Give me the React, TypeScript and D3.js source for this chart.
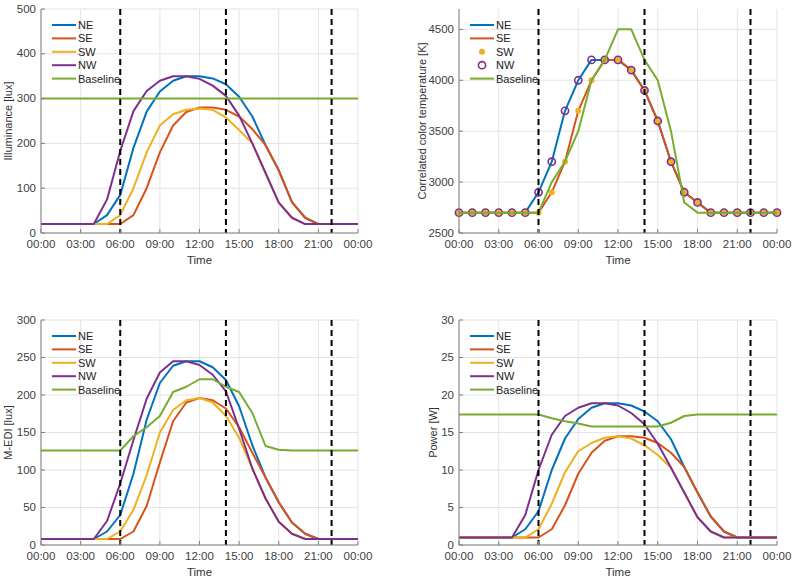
import React from "react"
import { scaleLinear, line } from "d3"

// hours 0..24
const hours = Array.from({ length: 25 }, (_, i) => i)
const xTicks = [0, 3, 6, 9, 12, 15, 18, 21, 24]
const xTickLabels = ["00:00", "03:00", "06:00", "09:00", "12:00", "15:00", "18:00", "21:00", "00:00"]
const dashedHours = [6, 14, 22]

const seriesNames = ["NE", "SE", "SW", "NW", "Baseline"]
const colors = ["#0072BD", "#D95319", "#EDB120", "#7E2F8E", "#77AC30"]

// illuminance [lux]
const illumNE = [20, 20, 20, 20, 20, 40, 85, 190, 271, 316, 340, 350, 350, 345, 332, 304, 260, 196, 140, 69, 34, 20, 20, 20, 20]
const illumSE = [20, 20, 20, 20, 20, 20, 20, 40, 100, 180, 240, 270, 280, 280, 275, 260, 232, 196, 140, 69, 34, 20, 20, 20, 20]
const illumSW = [20, 20, 20, 20, 20, 20, 40, 100, 180, 240, 265, 275, 278, 275, 258, 230, 200, 134, 68, 34, 20, 20, 20, 20, 20]
const illumNW = [20, 20, 20, 20, 20, 75, 183, 272, 317, 340, 350, 350, 344, 329, 306, 262, 200, 134, 68, 34, 20, 20, 20, 20, 20]
const illumBase = [300, 300, 300, 300, 300, 300, 300, 300, 300, 300, 300, 300, 300, 300, 300, 300, 300, 300, 300, 300, 300, 300, 300, 300, 300]

// correlated color temperature [K]
const cctNE = [2700, 2700, 2700, 2700, 2700, 2700, 2900, 3200, 3700, 4000, 4200, 4200, 4200, 4100, 3900, 3600, 3200, 2900, 2800, 2700, 2700, 2700, 2700, 2700, 2700]
const cctSE = [2700, 2700, 2700, 2700, 2700, 2700, 2700, 2900, 3200, 3700, 4000, 4200, 4200, 4100, 3900, 3600, 3200, 2900, 2800, 2700, 2700, 2700, 2700, 2700, 2700]
const cctSW = [2700, 2700, 2700, 2700, 2700, 2700, 2700, 2900, 3200, 3700, 4000, 4200, 4200, 4100, 3900, 3600, 3200, 2900, 2800, 2700, 2700, 2700, 2700, 2700, 2700]
const cctNW = [2700, 2700, 2700, 2700, 2700, 2700, 2900, 3200, 3700, 4000, 4200, 4200, 4200, 4100, 3900, 3600, 3200, 2900, 2800, 2700, 2700, 2700, 2700, 2700, 2700]
const cctBase = [2700, 2700, 2700, 2700, 2700, 2700, 2700, 3000, 3200, 3500, 4000, 4200, 4500, 4500, 4200, 4000, 3500, 2800, 2700, 2700, 2700, 2700, 2700, 2700, 2700]

// melanopic EDI [lux]
const medNE = [8, 8, 8, 8, 8, 18, 40, 95, 167, 216, 239, 245, 245, 237, 220, 185, 133, 90, 57, 30, 15, 8, 8, 8, 8]
const medSE = [8, 8, 8, 8, 8, 8, 8, 18, 52, 110, 165, 190, 196, 193, 182, 157, 123, 90, 57, 30, 15, 8, 8, 8, 8]
const medSW = [8, 8, 8, 8, 8, 8, 18, 47, 93, 150, 180, 193, 196, 190, 172, 143, 102, 62, 31, 15, 8, 8, 8, 8, 8]
const medNW = [8, 8, 8, 8, 8, 32, 82, 140, 195, 230, 245, 245, 240, 227, 205, 155, 102, 62, 31, 15, 8, 8, 8, 8, 8]
const medBase = [126, 126, 126, 126, 126, 126, 126, 145, 157, 172, 204, 211, 221, 221, 211, 204, 176, 132, 127, 126, 126, 126, 126, 126, 126]

// power [W]
const powNE = [1, 1, 1, 1, 1, 2.1, 4.5, 10, 14.2, 16.8, 18.3, 18.9, 18.9, 18.6, 17.8, 16.5, 14.1, 10.4, 7, 3.8, 1.8, 1, 1, 1, 1]
const powSE = [1, 1, 1, 1, 1, 1, 1, 2.1, 5.3, 9.5, 12.3, 13.9, 14.5, 14.5, 14.3, 13.6, 12.3, 10.4, 7, 3.8, 1.8, 1, 1, 1, 1]
const powSW = [1, 1, 1, 1, 1, 1, 2.1, 5.5, 9.7, 12.5, 13.6, 14.3, 14.5, 14.2, 13.3, 12, 10.3, 7, 3.7, 1.8, 1, 1, 1, 1, 1]
const powNW = [1, 1, 1, 1, 1, 4, 10, 14.7, 17.2, 18.3, 18.9, 18.9, 18.6, 17.6, 16.1, 13.5, 10.3, 7, 3.7, 1.8, 1, 1, 1, 1, 1]
const powBase = [17.4, 17.4, 17.4, 17.4, 17.4, 17.4, 17.4, 16.9, 16.5, 16.2, 15.8, 15.8, 15.8, 15.8, 15.8, 15.8, 16.3, 17.2, 17.4, 17.4, 17.4, 17.4, 17.4, 17.4, 17.4]

type Style = "line" | "dot" | "circle"

type PanelProps = {
  left: number
  top: number
  width: number
  height: number
  yDomain: [number, number]
  yTicks: number[]
  yLabel: string
  yLabelX: number
  series: number[][]
  styles: Style[]
}

const font = "'Liberation Sans', Arial, Helvetica, sans-serif"

const Panel = ({ left, top, width, height, yDomain, yTicks, yLabel, yLabelX, series, styles }: PanelProps) => {
  const x = scaleLinear().domain([0, 24]).range([left, left + width])
  const y = scaleLinear().domain(yDomain).range([top + height, top])
  const bottom = top + height
  const lineGen = line<number>()
    .x((_, i) => x(hours[i]))
    .y((d) => y(d))

  return (
    <g>
      {/* grid */}
      {xTicks.map((t) => (
        <line key={"gx" + t} x1={x(t)} x2={x(t)} y1={top} y2={bottom} stroke="#e4e4e4" strokeWidth={1} />
      ))}
      {yTicks.map((t) => (
        <line key={"gy" + t} x1={left} x2={left + width} y1={y(t)} y2={y(t)} stroke="#e4e4e4" strokeWidth={1} />
      ))}

      {/* series */}
      {series.map((s, k) =>
        styles[k] === "line" ? (
          <path key={"s" + k} d={lineGen(s) ?? ""} fill="none" stroke={colors[k]} strokeWidth={2} strokeLinejoin="round" />
        ) : (
          <g key={"s" + k}>
            {s.map((v, i) =>
              styles[k] === "dot" ? (
                <circle key={i} cx={x(hours[i])} cy={y(v)} r={3} fill={colors[k]} />
              ) : (
                <circle key={i} cx={x(hours[i])} cy={y(v)} r={3.6} fill="none" stroke={colors[k]} strokeWidth={1.6} />
              ),
            )}
          </g>
        ),
      )}

      {/* dashed markers */}
      {dashedHours.map((h) => (
        <line key={"d" + h} x1={x(h)} x2={x(h)} y1={top} y2={bottom} stroke="#000" strokeWidth={2} strokeDasharray="6,4" />
      ))}

      {/* axes */}
      <line x1={left} x2={left + width} y1={bottom} y2={bottom} stroke="#808080" strokeWidth={1} />
      <line x1={left} x2={left} y1={top} y2={bottom} stroke="#808080" strokeWidth={1} />
      {xTicks.map((t, i) => (
        <g key={"xt" + i}>
          <line x1={x(t)} x2={x(t)} y1={bottom} y2={bottom - 4} stroke="#808080" />
          <text x={x(t)} y={bottom + 14.5} textAnchor="middle" fontSize={11.5} fill="#404040" fontFamily={font}>
            {xTickLabels[i]}
          </text>
        </g>
      ))}
      {yTicks.map((t) => (
        <g key={"yt" + t}>
          <line x1={left} x2={left + 4} y1={y(t)} y2={y(t)} stroke="#808080" />
          <text x={left - 5} y={y(t) + 3.5} textAnchor="end" fontSize={11.5} fill="#404040" fontFamily={font}>
            {t}
          </text>
        </g>
      ))}
      <text x={left + width / 2} y={bottom + 30.5} textAnchor="middle" fontSize={11.5} fill="#333" fontFamily={font}>
        Time
      </text>
      <text
        transform={`translate(${yLabelX},${top + height / 2}) rotate(-90)`}
        textAnchor="middle"
        fontSize={11}
        fill="#333"
        fontFamily={font}
      >
        {yLabel}
      </text>

      {/* legend */}
      {seriesNames.map((name, k) => {
        const ly = top + 16 + k * 13.4
        const lx = left + 11
        return (
          <g key={"l" + k}>
            {styles[k] === "line" && <line x1={lx} x2={lx + 24} y1={ly} y2={ly} stroke={colors[k]} strokeWidth={2} />}
            {styles[k] === "dot" && <circle cx={lx + 12} cy={ly} r={3} fill={colors[k]} />}
            {styles[k] === "circle" && <circle cx={lx + 12} cy={ly} r={3.6} fill="none" stroke={colors[k]} strokeWidth={1.6} />}
            <text x={lx + 26} y={ly + 4} fontSize={11} fill="#222" fontFamily={font}>
              {name}
            </text>
          </g>
        )
      })}
    </g>
  )
}

const allLines: Style[] = ["line", "line", "line", "line", "line"]
const cctStyles: Style[] = ["line", "line", "dot", "circle", "line"]

export default function App() {
  return (
    <svg width={796} height={582} style={{ position: "absolute", left: 0, top: 0, background: "#fff" }}>
      <Panel
        left={41}
        top={9}
        width={317}
        height={224}
        yDomain={[0, 500]}
        yTicks={[0, 100, 200, 300, 400, 500]}
        yLabel="Illuminance [lux]"
        yLabelX={12}
        series={[illumNE, illumSE, illumSW, illumNW, illumBase]}
        styles={allLines}
      />
      <Panel
        left={459}
        top={9}
        width={318}
        height={224}
        yDomain={[2500, 4700]}
        yTicks={[2500, 3000, 3500, 4000, 4500]}
        yLabel="Correlated color temperature [K]"
        yLabelX={426}
        series={[cctNE, cctSE, cctSW, cctNW, cctBase]}
        styles={cctStyles}
      />
      <Panel
        left={41}
        top={320}
        width={317}
        height={225}
        yDomain={[0, 300]}
        yTicks={[0, 50, 100, 150, 200, 250, 300]}
        yLabel="M-EDI [lux]"
        yLabelX={12}
        series={[medNE, medSE, medSW, medNW, medBase]}
        styles={allLines}
      />
      <Panel
        left={459}
        top={320}
        width={318}
        height={225}
        yDomain={[0, 30]}
        yTicks={[0, 5, 10, 15, 20, 25, 30]}
        yLabel="Power [W]"
        yLabelX={437}
        series={[powNE, powSE, powSW, powNW, powBase]}
        styles={allLines}
      />
    </svg>
  )
}
